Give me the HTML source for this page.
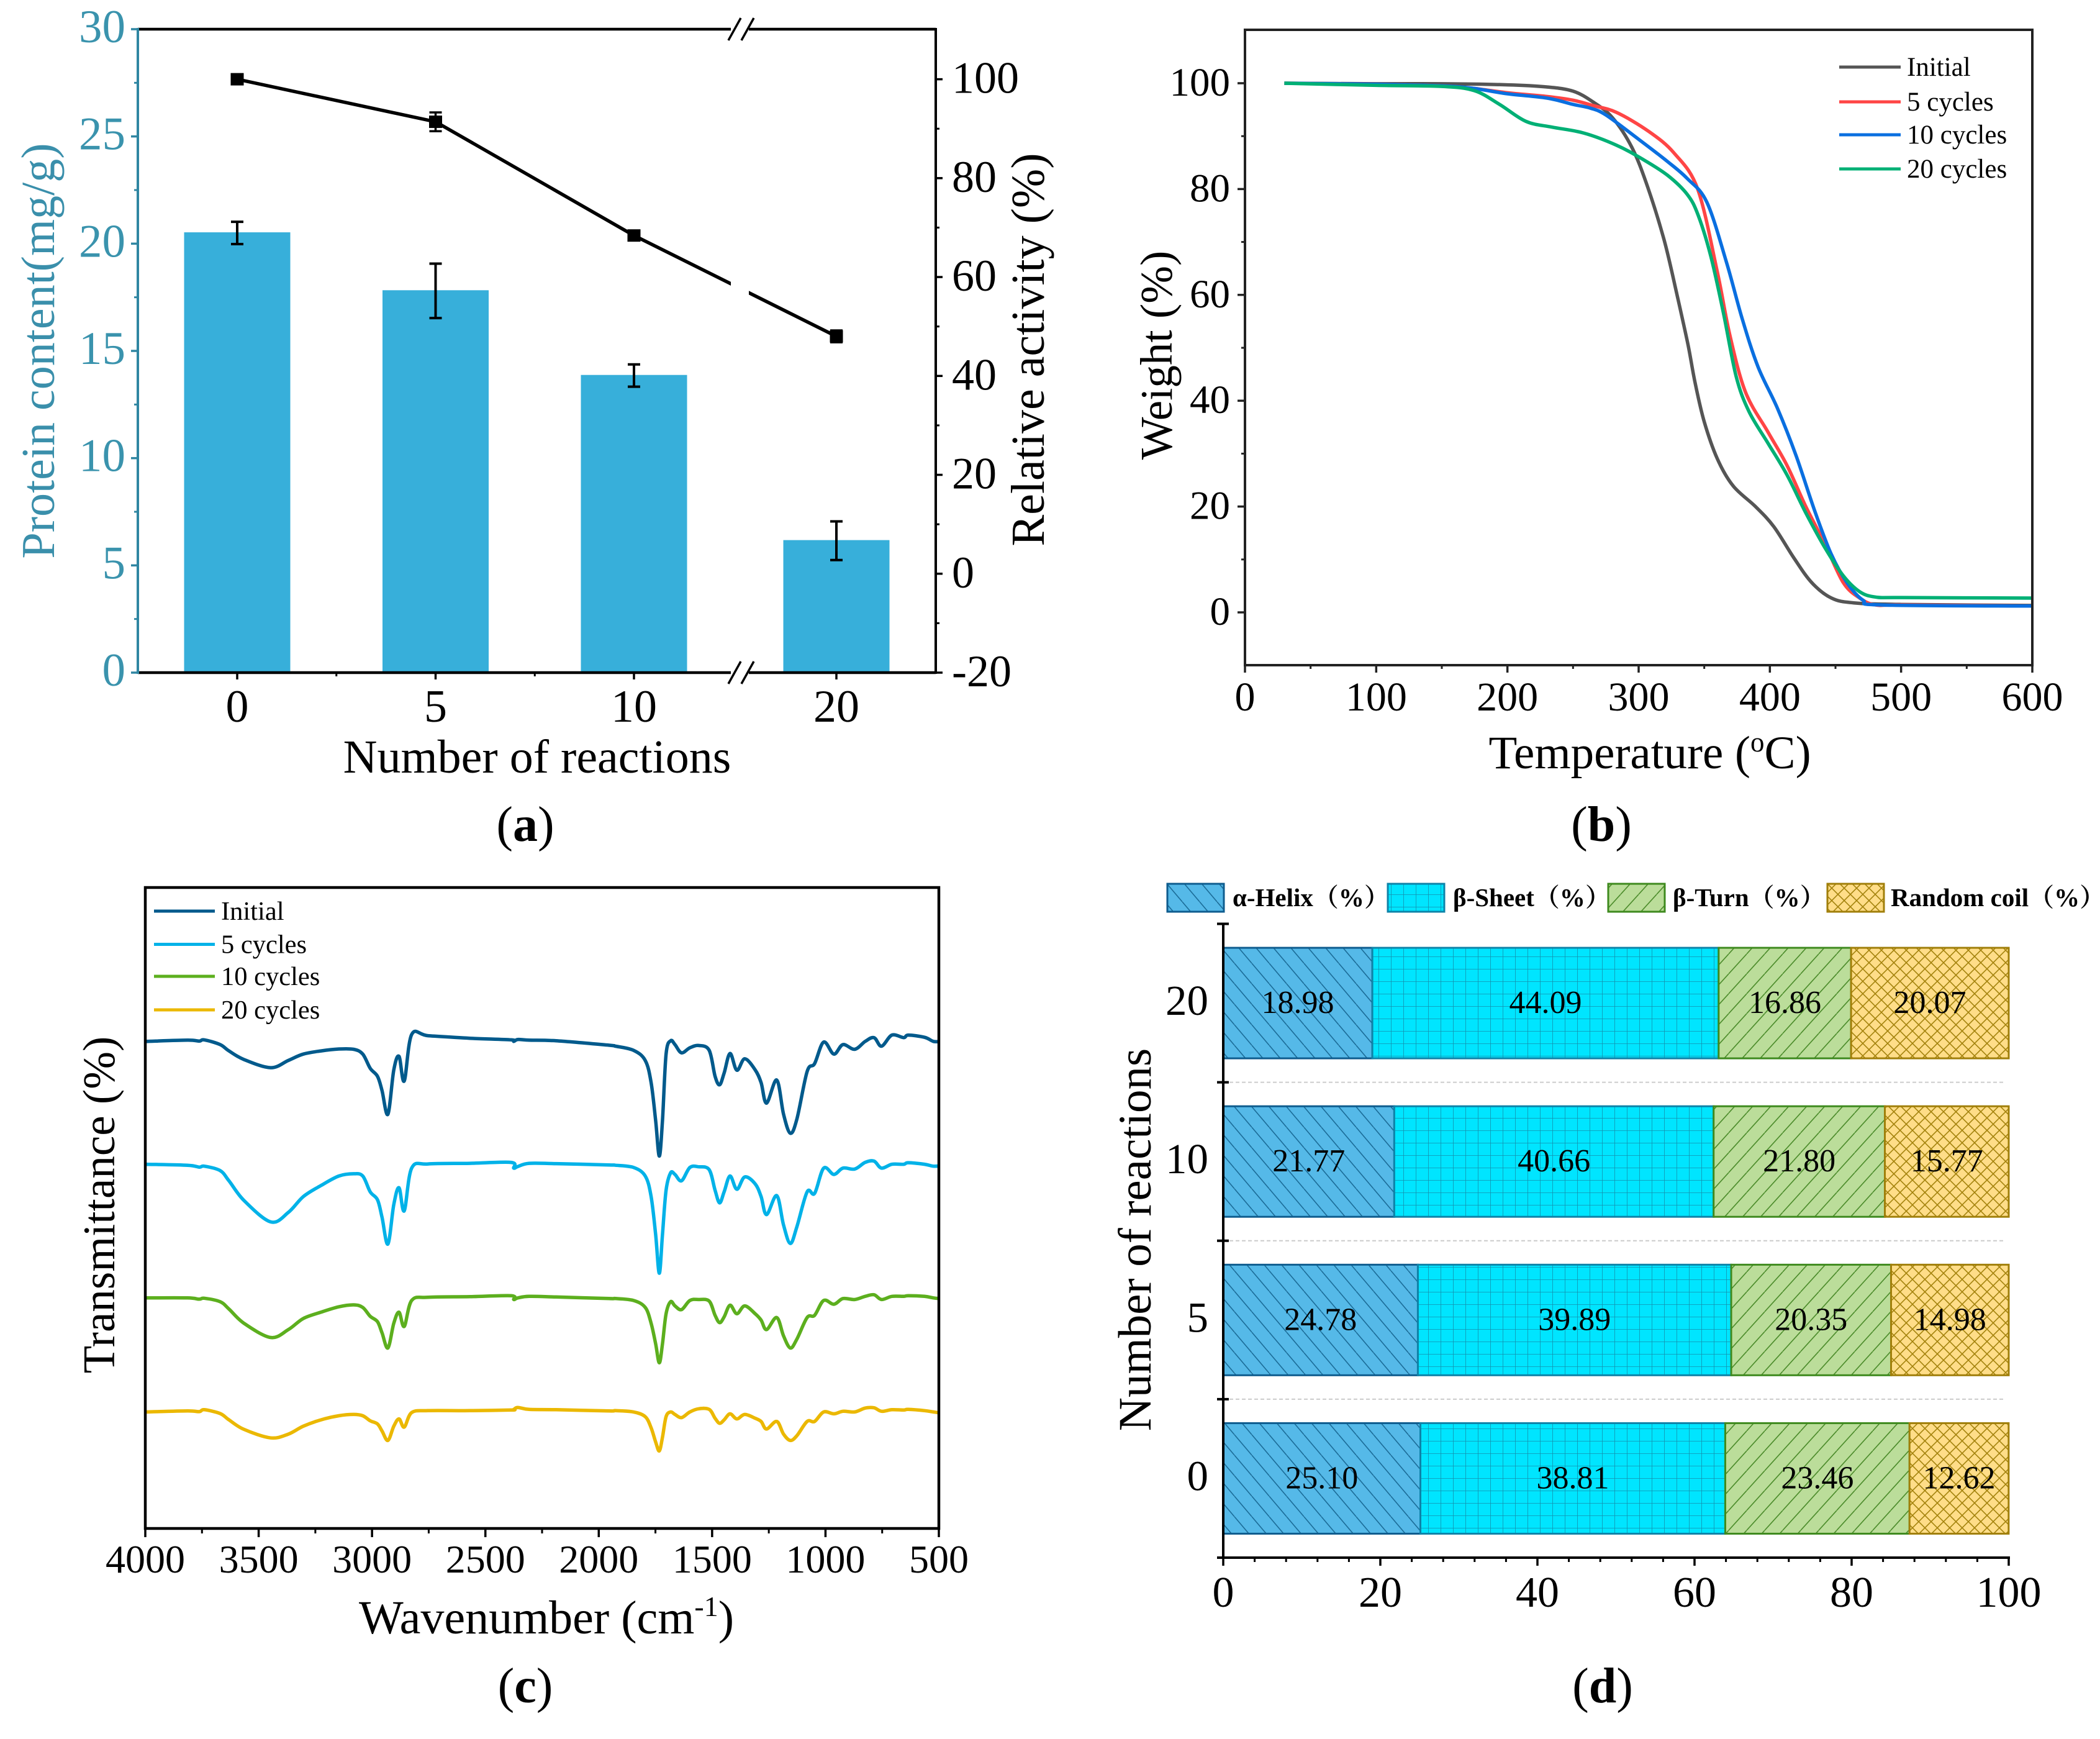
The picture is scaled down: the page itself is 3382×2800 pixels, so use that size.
<!DOCTYPE html>
<html>
<head>
<meta charset="utf-8">
<title>Protein content, TGA, FTIR and secondary structure charts</title>
<style>
html,body{margin:0;padding:0;background:#fff}
svg{display:block}
text{font-family:"Liberation Serif","Noto Serif CJK SC",serif;fill:#000}
</style>
</head>
<body>
<svg id="fig" xmlns="http://www.w3.org/2000/svg" width="3382" height="2800" viewBox="0 0 3382 2800">
<defs>
<pattern id="hatch-helix" patternUnits="userSpaceOnUse" width="28" height="33"><rect width="28" height="33" fill="#55B9E8"/><path d="M0,0L28,33M-28,0L0,33M28,0L56,33" stroke="#1B6C98" stroke-width="1.6" fill="none"/></pattern>
<pattern id="hatch-sheet" patternUnits="userSpaceOnUse" width="20" height="20"><rect width="20" height="20" fill="#00E5FF"/><path d="M0,0H20M0,0V20" stroke="#1490AD" stroke-width="1.6" fill="none"/></pattern>
<pattern id="hatch-turn" patternUnits="userSpaceOnUse" width="29" height="32"><rect width="29" height="32" fill="#BBDD9A"/><path d="M0,32L29,0M-29,32L0,0M29,32L58,0" stroke="#4C8C2B" stroke-width="1.6" fill="none"/></pattern>
<pattern id="hatch-coil" patternUnits="userSpaceOnUse" width="20" height="20"><rect width="20" height="20" fill="#FFDD88"/><path d="M0,0L20,20M20,0L0,20" stroke="#A3820C" stroke-width="1.6" fill="none"/></pattern>
</defs>

<g id="panel-a"></g>
<g id="panel-b"></g>
<g id="panel-c"></g>
<g id="panel-d"></g>

<text x="865" y="1244" font-size="76" text-anchor="middle">Number of reactions</text>
<text transform="translate(87,565) rotate(-90)" font-size="76" text-anchor="middle" style="fill:#3A8FAB">Protein content(mg/g)</text>
<text transform="translate(1681,563) rotate(-90)" font-size="76" text-anchor="middle">Relative activity (%)</text>
<text x="846" y="1354" font-size="80" text-anchor="middle">(<tspan font-weight="bold">a</tspan>)</text>

<text x="2657" y="1237" font-size="75" text-anchor="middle">Temperature (<tspan font-size="45" dy="-27">o</tspan><tspan dy="27">C)</tspan></text>
<text transform="translate(1887,572) rotate(-90)" font-size="73" text-anchor="middle">Weight (%)</text>
<text x="2579" y="1354" font-size="80" text-anchor="middle">(<tspan font-weight="bold">b</tspan>)</text>

<text x="880" y="2630" font-size="76" text-anchor="middle">Wavenumber (cm<tspan font-size="46" dy="-28">-1</tspan><tspan dy="28">)</tspan></text>
<text transform="translate(184,1940) rotate(-90)" font-size="73" text-anchor="middle">Transmittance (%)</text>
<text x="846" y="2741" font-size="80" text-anchor="middle">(<tspan font-weight="bold">c</tspan>)</text>

<text transform="translate(1853,1996) rotate(-90)" font-size="75" text-anchor="middle">Number of reactions</text>
<text x="2581" y="2741" font-size="80" text-anchor="middle">(<tspan font-weight="bold">d</tspan>)</text>
</svg>

<script>
/* ---------- Panel (a) data ---------- */
var reactionCategories = [0, 5, 10, 20];
var proteinContent = [20.5, 17.8, 13.85, 6.15];
var proteinError = [0.52, 1.27, 0.52, 0.9];
var relativeActivity = [100, 91.4, 68.4, 48];
var activityError = [0, 1.9, 0.8, 1.2];
var proteinTicks = [0, 5, 10, 15, 20, 25, 30];
var proteinMinorTicks = [2.5, 7.5, 12.5, 17.5, 22.5, 27.5];
var activityTicks = [-20, 0, 20, 40, 60, 80, 100];
var activityMinorTicks = [-10, 10, 30, 50, 70, 90];
var reactionMinorTicks = [2.5, 7.5];

/* ---------- Panel (b) data ---------- */
var tgaSeriesNames = ['Initial', '5 cycles', '10 cycles', '20 cycles'];
var tempTicks = [0, 100, 200, 300, 400, 500, 600];
var tempMinorTicks = [50, 150, 250, 350, 450, 550];
var weightTicks = [0, 20, 40, 60, 80, 100];
var weightMinorTicks = [10, 30, 50, 70, 90];
var initialTemp = [30, 100, 150, 200, 230, 250, 265, 280, 295, 306.7, 319.5, 329.6, 337.6, 343, 350, 360, 372, 389, 403, 418, 432, 447, 464, 500, 600];
var initialWeight = [100, 99.9, 99.9, 99.7, 99.3, 98.5, 96.5, 93.5, 87.8, 80.5, 70.3, 59.6, 50.6, 43.4, 36, 29, 23.9, 20, 16.2, 10.4, 5.6, 2.7, 1.8, 1.5, 1.3];
var cycles5Temp = [30, 100, 150, 175, 200, 230, 250, 265, 283, 307.6, 327, 345, 360, 369.5, 381.5, 398.5, 413, 427.4, 442, 456, 468.5, 480.5, 500, 600];
var cycles5Weight = [100, 99.8, 99.5, 99, 98.2, 97.5, 96.8, 95.8, 94.5, 90.9, 86.8, 80, 64.3, 52.4, 41.6, 34.1, 27.8, 20, 12.9, 5.6, 2.7, 1.4, 1.4, 1.2];
var cycles10Temp = [30, 100, 150, 175, 200, 230, 250, 263, 275, 300, 322, 337, 352, 367, 379, 391, 405.7, 420, 434.7, 446.8, 458.8, 471, 485, 600];
var cycles10Weight = [100, 99.8, 99.5, 99, 98, 97.2, 96, 95.3, 94, 89.4, 85.2, 82, 77.5, 66.1, 55.4, 46.4, 38.6, 29.6, 18.8, 11, 5.6, 2.3, 1.4, 1.2];
var cycles20Temp = [30, 100, 150, 174.7, 194, 214, 234, 258, 283, 302.6, 322, 337, 345.3, 355, 364.6, 374.3, 384, 398.5, 413, 427.4, 442, 456, 468.5, 480.5, 500, 600];
var cycles20Weight = [100, 99.6, 99.4, 98.6, 96, 92.8, 91.7, 90.6, 88.3, 85.7, 82.6, 79, 75.1, 67.3, 56.6, 44.6, 38, 32, 26, 18.8, 12.2, 6.9, 3.9, 2.9, 2.8, 2.7];

/* ---------- Panel (c) data (transmittance in arbitrary units, stacked offsets) ---------- */
var ftirSeriesNames = ['Initial', '5 cycles', '10 cycles', '20 cycles'];
var wavenumberTicks = [4000, 3500, 3000, 2500, 2000, 1500, 1000, 500];
var wavenumberMinorTicks = [3750, 3250, 2750, 2250, 1750, 1250, 750];
var wavenumbers = [3998, 3814, 3762, 3740, 3670, 3631, 3565, 3447, 3369, 3303, 3225, 3146, 3081, 3041, 3008, 2976, 2956, 2930, 2904, 2881, 2858, 2825, 2753, 2569, 2386, 2375, 2357, 2307, 2188, 1956, 1926, 1847, 1795, 1769, 1749, 1733, 1719, 1703, 1683, 1664, 1635, 1598, 1559, 1513, 1487, 1467, 1447, 1421, 1391, 1356, 1310, 1284, 1260, 1215, 1185, 1155, 1126, 1081, 1048, 1008, 963, 923, 871, 825, 786, 753, 707, 655, 635, 563, 524, 497];
var ftirInitial = [850, 854, 851, 855, 840, 820, 793, 767, 790, 810, 820, 826, 825, 810, 765, 740, 695, 620, 760, 803, 725, 872, 868, 860, 855, 850, 856, 854, 852, 838, 835, 822, 790, 720, 600, 488, 600, 810, 852, 840, 814, 830, 837, 822, 740, 713, 750, 812, 759, 795, 760, 720, 655, 728, 620, 560, 605, 755, 780, 848, 810, 840, 825, 850, 862, 835, 870, 862, 870, 863, 850, 850];
var ftir5Cycles = [462, 459, 453, 456, 442, 410, 348, 280, 310, 360, 395, 425, 432, 425, 375, 350, 295, 210, 335, 388, 315, 450, 463, 465, 468, 450, 455, 465, 464, 460, 459, 452, 425, 360, 240, 118, 240, 380, 435, 430, 410, 452, 454, 445, 380, 340, 375, 425, 383, 422, 400, 360, 303, 363, 270, 212, 265, 375, 370, 450, 430, 450, 447, 468, 472, 450, 462, 462, 467, 462, 456, 457];
var ftir10Cycles = [40, 40, 36, 39, 28, 5, -40, -85, -60, -25, -5, 12, 18, 10, -18, -35, -70, -118, -40, -5, -50, 32, 42, 44, 47, 35, 40, 45, 43, 38, 38, 32, 10, -40, -105, -165, -105, -10, 28, 15, 3, 32, 35, 30, -15, -38, -20, 17, -10, 15, -10, -30, -60, -22, -80, -118, -90, -22, -15, 32, 20, 38, 35, 45, 50, 35, 45, 45, 47, 45, 40, 38];
var ftir20Cycles = [-320, -317, -319, -313, -325, -345, -375, -402, -390, -365, -345, -332, -328, -332, -348, -358, -380, -410, -365, -342, -368, -322, -316, -316, -314, -312, -306, -312, -313, -317, -316, -320, -335, -370, -415, -443, -400, -335, -320, -328, -338, -320, -310, -312, -340, -356, -345, -326, -342, -328, -340, -350, -374, -350, -390, -410, -395, -350, -350, -320, -326, -318, -320, -308, -307, -318, -313, -314, -312, -316, -320, -323];

/* ---------- Panel (d) data ---------- */
var structureCategories = [20, 10, 5, 0];
var structureNames = ['α-Helix（%）', 'β-Sheet（%）', 'β-Turn（%）', 'Random coil（%）'];
var helixValues = [18.98, 21.77, 24.78, 25.10];
var sheetValues = [44.09, 40.66, 39.89, 38.81];
var turnValues = [16.86, 21.80, 20.35, 23.46];
var coilValues = [20.07, 15.77, 14.98, 12.62];
var percentTicks = [0, 20, 40, 60, 80, 100];
var percentMinorTicks = [4, 8, 12, 16, 24, 28, 32, 36, 44, 48, 52, 56, 64, 68, 72, 76, 84, 88, 92, 96];

/* ---------- helpers ---------- */
var NS = 'http://www.w3.org/2000/svg';
function mk(tag, parent, attrs, txt) {
  var el = document.createElementNS(NS, tag);
  for (var k in attrs) el.setAttribute(k, attrs[k]);
  if (txt !== undefined) el.textContent = txt;
  parent.appendChild(el);
  return el;
}
function smoothPath(pts) {
  var d = 'M' + pts[0][0].toFixed(1) + ',' + pts[0][1].toFixed(1);
  for (var i = 0; i < pts.length - 1; i++) {
    var p0 = pts[Math.max(0, i - 1)], p1 = pts[i], p2 = pts[i + 1], p3 = pts[Math.min(pts.length - 1, i + 2)];
    var c1x = p1[0] + (p2[0] - p0[0]) / 6, c1y = p1[1] + (p2[1] - p0[1]) / 6;
    var c2x = p2[0] - (p3[0] - p1[0]) / 6, c2y = p2[1] - (p3[1] - p1[1]) / 6;
    d += 'C' + c1x.toFixed(1) + ',' + c1y.toFixed(1) + ' ' + c2x.toFixed(1) + ',' + c2y.toFixed(1) + ' ' + p2[0].toFixed(1) + ',' + p2[1].toFixed(1);
  }
  return d;
}

/* ---------- Panel (a) ---------- */
(function () {
  var g = document.getElementById('panel-a');
  var L = 222, R = 1507, T = 47, B = 1083;
  var teal = '#2F86A2', tealText = '#3A93AD';
  function yLeft(v) { return B - (B - T) * v / 30; }
  function yRight(v) { return B - (B - 127.6) * (v + 20) / 120; }
  function xCat(v) { return v <= 10 ? 382 + v * 63.9 : 1021 + (v - 10) * 32.6; }
  reactionCategories.forEach(function (c, i) {
    var el = mk('rect', g, { x: xCat(c) - 85.5, y: yLeft(proteinContent[i]) - 1, width: 171, height: B - yLeft(proteinContent[i]) + 1, fill: '#37AFDA' });
    
    
  });
  reactionCategories.forEach(function (c, i) {
    var x = xCat(c), y1 = yLeft(proteinContent[i] + proteinError[i]), y2 = yLeft(proteinContent[i] - proteinError[i]);
    var eb = mk('path', g, { d: 'M' + (x - 10) + ',' + y1 + 'H' + (x + 10) + 'M' + x + ',' + y1 + 'V' + y2 + 'M' + (x - 10) + ',' + y2 + 'H' + (x + 10), stroke: '#000', 'stroke-width': 4, fill: 'none' });
    
    
  });
  var pts = reactionCategories.map(function (c, i) { return xCat(c) + ',' + yRight(relativeActivity[i]); }).join(' ');
  var ln = mk('polyline', g, { points: pts, fill: 'none', stroke: '#000', 'stroke-width': 5.5 });
  
  
  reactionCategories.forEach(function (c, i) {
    var x = xCat(c), y = yRight(relativeActivity[i]);
    if (activityError[i] > 0) {
      var y1 = yRight(relativeActivity[i] + activityError[i]), y2 = yRight(relativeActivity[i] - activityError[i]);
      var eb = mk('path', g, { d: 'M' + (x - 10) + ',' + y1 + 'H' + (x + 10) + 'M' + x + ',' + y1 + 'V' + y2 + 'M' + (x - 10) + ',' + y2 + 'H' + (x + 10), stroke: '#000', 'stroke-width': 3.5, fill: 'none' });
      
      
    }
    var m = mk('rect', g, { x: x - 10.5, y: y - 10, width: 21, height: 20, fill: '#000' });
    
    
  });
  /* spines */
  var sb = mk('line', g, { x1: L, y1: B, x2: R, y2: B, stroke: '#000', 'stroke-width': 4.5 });
  
  
  var st = mk('line', g, { x1: L, y1: T, x2: R, y2: T, stroke: '#000', 'stroke-width': 4.5 });
  
  
  var sl = mk('line', g, { x1: L, y1: T - 2, x2: L, y2: B + 2, stroke: teal, 'stroke-width': 4 });
  
  
  var sr = mk('line', g, { x1: R, y1: T - 2, x2: R, y2: B + 2, stroke: '#000', 'stroke-width': 4 });
  
  
  /* axis break */
  var gap = mk('rect', g, { x: 1177, y: T - 6, width: 29, height: B - T + 12, fill: '#fff' });
  
  
  [T, B].forEach(function (yy) {
    var br = mk('path', g, { d: 'M1173,' + (yy + 18) + 'L1193,' + (yy - 18) + 'M1194,' + (yy + 18) + 'L1214,' + (yy - 18), stroke: '#000', 'stroke-width': 3.5, fill: 'none' });
    
    
  });
  /* ticks */
  proteinTicks.forEach(function (v) {
    var t = mk('line', g, { x1: L - 11, x2: L, y1: yLeft(v), y2: yLeft(v), stroke: teal, 'stroke-width': 3.5 });
    
    
    var l = mk('text', g, { x: 202, y: yLeft(v) + 21, 'font-size': 75, 'text-anchor': 'end', style: 'fill:' + tealText }, String(v));
    
    
  });
  proteinMinorTicks.forEach(function (v) {
    var t = mk('line', g, { x1: L - 6, x2: L, y1: yLeft(v), y2: yLeft(v), stroke: teal, 'stroke-width': 3 });
    
    
  });
  activityTicks.forEach(function (v) {
    var t = mk('line', g, { x1: R, x2: R + 11, y1: yRight(v), y2: yRight(v), stroke: '#000', 'stroke-width': 3.5 });
    
    
    var l = mk('text', g, { x: 1533, y: yRight(v) + 22, 'font-size': 72 }, String(v));
    
    
  });
  activityMinorTicks.forEach(function (v) {
    var t = mk('line', g, { x1: R, x2: R + 6, y1: yRight(v), y2: yRight(v), stroke: '#000', 'stroke-width': 3 });
    
    
  });
  reactionCategories.forEach(function (c) {
    var t = mk('line', g, { x1: xCat(c), x2: xCat(c), y1: B, y2: B + 11, stroke: '#000', 'stroke-width': 3.5 });
    
    
    var l = mk('text', g, { x: xCat(c), y: 1162, 'font-size': 74, 'text-anchor': 'middle' }, String(c));
    
    
  });
  reactionMinorTicks.forEach(function (c) {
    var t = mk('line', g, { x1: xCat(c), x2: xCat(c), y1: B, y2: B + 6, stroke: '#000', 'stroke-width': 3 });
    
    
  });
})();

/* ---------- Panel (b) ---------- */
(function () {
  var g = document.getElementById('panel-b');
  var L = 2005, R = 3273, T = 48, B = 1071;
  var colors = ['#555555', '#FF4545', '#0A6FE0', '#00B075'];
  var xs = [initialTemp, cycles5Temp, cycles10Temp, cycles20Temp];
  var ys = [initialWeight, cycles5Weight, cycles10Weight, cycles20Weight];
  function x(v) { return L + (R - L) * v / 600; }
  function y(v) { return 986 - 8.52 * v; }
  xs.forEach(function (arr, s) {
    var pts = arr.map(function (t, i) { return [x(t), y(ys[s][i])]; });
    var p = mk('path', g, { d: smoothPath(pts), fill: 'none', stroke: colors[s], 'stroke-width': 5.5 });
    
    
  });
  var fr = mk('rect', g, { x: L, y: T, width: R - L, height: B - T, fill: 'none', stroke: '#222', 'stroke-width': 4 });
  
  
  tempTicks.forEach(function (v) {
    var t = mk('line', g, { x1: x(v), x2: x(v), y1: B, y2: B + 12, stroke: '#222', 'stroke-width': 3.5 });
    
    
    var l = mk('text', g, { x: x(v), y: 1144, 'font-size': 66, 'text-anchor': 'middle' }, String(v));
    
    
  });
  tempMinorTicks.forEach(function (v) {
    var t = mk('line', g, { x1: x(v), x2: x(v), y1: B, y2: B + 6, stroke: '#222', 'stroke-width': 3 });
    
    
  });
  weightTicks.forEach(function (v) {
    var t = mk('line', g, { x1: L - 12, x2: L, y1: y(v), y2: y(v), stroke: '#222', 'stroke-width': 3.5 });
    
    
    var l = mk('text', g, { x: 1981, y: y(v) + 20, 'font-size': 65, 'text-anchor': 'end' }, String(v));
    
    
  });
  weightMinorTicks.forEach(function (v) {
    var t = mk('line', g, { x1: L - 6, x2: L, y1: y(v), y2: y(v), stroke: '#222', 'stroke-width': 3 });
    
    
  });
  var rows = [108, 164, 217, 272];
  tgaSeriesNames.forEach(function (n, i) {
    var k = mk('line', g, { x1: 2962, x2: 3061, y1: rows[i], y2: rows[i], stroke: colors[i], 'stroke-width': 5 });
    
    
    var l = mk('text', g, { x: 3071, y: rows[i] + 14, 'font-size': 43 }, n);
    
    
  });
})();

/* ---------- Panel (c) ---------- */
(function () {
  var g = document.getElementById('panel-c');
  var L = 234, R = 1512, T = 1429, B = 2461;
  var yMin = -688, yMax = 1336;
  var colors = ['#005A8C', '#00B2E8', '#5CAF1E', '#EBB800'];
  var series = [ftirInitial, ftir5Cycles, ftir10Cycles, ftir20Cycles];
  function x(w) { return L + (4000 - w) * (R - L) / 3500; }
  function y(v) { return B - (B - T) * (v - yMin) / (yMax - yMin); }
  series.forEach(function (vals, s) {
    var pts = vals.map(function (v, i) { return [x(wavenumbers[i]), y(v)]; });
    pts[0][0] = L;
    var p = mk('path', g, { d: smoothPath(pts), fill: 'none', stroke: colors[s], 'stroke-width': 5.5, 'stroke-linejoin': 'round' });
    
    
  });
  var fr = mk('rect', g, { x: L, y: T, width: R - L, height: B - T, fill: 'none', stroke: '#000', 'stroke-width': 4.5 });
  
  
  wavenumberTicks.forEach(function (v) {
    var t = mk('line', g, { x1: x(v), x2: x(v), y1: B, y2: B + 14, stroke: '#000', 'stroke-width': 3.5 });
    
    
    var l = mk('text', g, { x: x(v), y: 2532, 'font-size': 64, 'text-anchor': 'middle' }, String(v));
    
    
  });
  wavenumberMinorTicks.forEach(function (v) {
    var t = mk('line', g, { x1: x(v), x2: x(v), y1: B, y2: B + 8, stroke: '#000', 'stroke-width': 3 });
    
    
  });
  var rows = [1467, 1520.5, 1572, 1626];
  ftirSeriesNames.forEach(function (n, i) {
    var k = mk('line', g, { x1: 248, x2: 346, y1: rows[i], y2: rows[i], stroke: colors[i], 'stroke-width': 5 });
    
    
    var l = mk('text', g, { x: 356, y: rows[i] + 14, 'font-size': 42.5 }, n);
    
    
  });
})();

/* ---------- Panel (d) ---------- */
(function () {
  var g = document.getElementById('panel-d');
  var L = 1970, R = 3235, T = 1487.5, B = 2508;
  var band = (B - T) / structureCategories.length, barH = 178;
  var fills = ['url(#hatch-helix)', 'url(#hatch-sheet)', 'url(#hatch-turn)', 'url(#hatch-coil)'];
  var edges = ['#0E5C8E', '#0E83A8', '#3E8A1E', '#A07F0A'];
  var series = [helixValues, sheetValues, turnValues, coilValues];
  function x(v) { return L + (R - L) * v / 100; }
  function yBand(i) { return T + band * i; }
  /* grid */
  for (var gi = 1; gi < structureCategories.length; gi++) {
    var gl = mk('line', g, { x1: L, x2: R - 5, y1: yBand(gi), y2: yBand(gi), stroke: '#cccccc', 'stroke-width': 2, 'stroke-dasharray': '6 4' });
    
    
  }
  structureCategories.forEach(function (c, i) {
    var acc = 0, top = yBand(i) + (band - barH) / 2;
    series.forEach(function (vals, s) {
      var r = mk('rect', g, { x: x(acc), y: top, width: x(acc + vals[i]) - x(acc), height: barH, fill: fills[s], stroke: edges[s], 'stroke-width': 3 });
      
      
      acc += vals[i];
    });
    acc = 0;
    series.forEach(function (vals, s) {
      var t = mk('text', g, { x: (x(acc) + x(acc + vals[i])) / 2, y: top + barH / 2 + 16, 'font-size': 52, 'text-anchor': 'middle' }, vals[i].toFixed(2));
      
      
      acc += vals[i];
    });
    var l = mk('text', g, { x: 1946, y: top + barH / 2 + 19, 'font-size': 69, 'text-anchor': 'end' }, String(c));
    
    
  });
  for (var ti = 0; ti <= structureCategories.length; ti++) {
    var tk = mk('line', g, { x1: L - 10, x2: L + 9, y1: yBand(ti), y2: yBand(ti), stroke: '#000', 'stroke-width': 4 });
    
    
  }
  var ay = mk('line', g, { x1: L, x2: L, y1: T, y2: B, stroke: '#000', 'stroke-width': 4 });
  
  
  var ax = mk('line', g, { x1: L - 2, x2: R + 2, y1: B, y2: B, stroke: '#000', 'stroke-width': 4 });
  
  
  percentTicks.forEach(function (v) {
    var t = mk('line', g, { x1: x(v), x2: x(v), y1: B, y2: B + 13, stroke: '#000', 'stroke-width': 3.5 });
    
    
    var l = mk('text', g, { x: x(v), y: 2587, 'font-size': 70, 'text-anchor': 'middle' }, String(v));
    
    
  });
  percentMinorTicks.forEach(function (v) {
    var t = mk('line', g, { x1: x(v), x2: x(v), y1: B, y2: B + 7, stroke: '#000', 'stroke-width': 3 });
    
    
  });
  var swatchX = [1880, 2235, 2590, 2943], textX = [1985, 2340, 2694, 3045];
  structureNames.forEach(function (n, i) {
    var sw = mk('rect', g, { x: swatchX[i], y: 1423, width: 91, height: 45, fill: fills[i], stroke: edges[i], 'stroke-width': 3 });
    
    
    var l = mk('text', g, { x: textX[i], y: 1459, 'font-size': 41, 'font-weight': 'bold' }, n);
    
    
  });
})();
</script>
</body>
</html>
